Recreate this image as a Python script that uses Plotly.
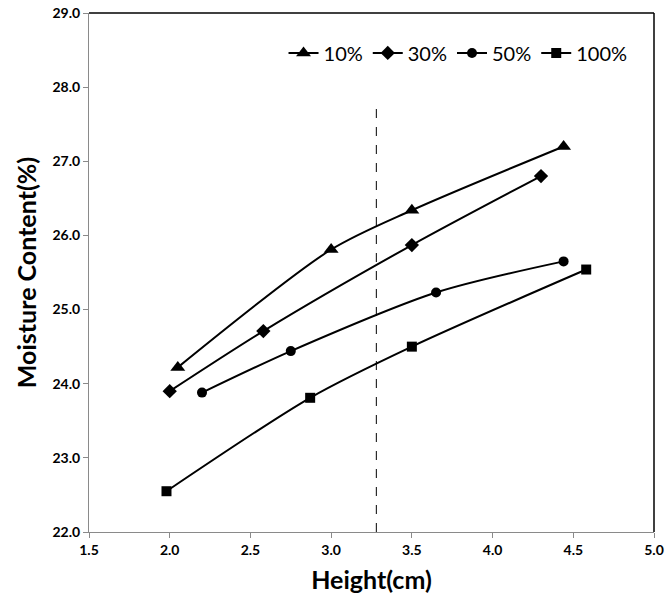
import plotly.graph_objects as go

x_10 = [2.05, 3.0, 3.5, 4.44]
y_10 = [24.22, 25.81, 26.34, 27.2]

x_30 = [2.0, 2.58, 3.5, 4.3]
y_30 = [23.9, 24.71, 25.87, 26.8]

x_50 = [2.2, 2.75, 3.65, 4.44]
y_50 = [23.88, 24.44, 25.23, 25.65]

x_100 = [1.98, 2.87, 3.5, 4.58]
y_100 = [22.55, 23.81, 24.5, 25.54]

series = [
    ("10%", x_10, y_10, "triangle-up", 13),
    ("30%", x_30, y_30, "diamond", 11),
    ("50%", x_50, y_50, "circle", 10),
    ("100%", x_100, y_100, "square", 10),
]

cut_x = 3.28
cut_top = 27.77

fig = go.Figure()

for name, xs, ys, sym, size in series:
    fig.add_trace(go.Scatter(
        x=xs, y=ys, name=name,
        mode="lines+markers",
        line=dict(color="black", width=2, shape="spline", smoothing=0.8),
        marker=dict(symbol=sym, size=size, color="black"),
    ))

# dashed reference line
fig.add_trace(go.Scatter(
    x=[cut_x, cut_x], y=[22.0, cut_top],
    mode="lines", showlegend=False, hoverinfo="skip",
    line=dict(color="black", width=1, dash="dash"),
))

# black frame on top and right (left/bottom axis lines are grey)
fig.add_shape(type="line", xref="paper", yref="paper", x0=0, x1=1, y0=1, y1=1,
              line=dict(color="black", width=1.5))
fig.add_shape(type="line", xref="paper", yref="paper", x0=1, x1=1, y0=0, y1=1,
              line=dict(color="black", width=1.5))

tick_font = dict(size=14, family="Lato", weight="bold", color="black")

fig.update_layout(
    width=669, height=605,
    margin=dict(l=89, r=15, t=13, b=73),
    plot_bgcolor="white", paper_bgcolor="white",
    font=dict(family="Lato, Open Sans, sans-serif", color="black"),
    legend=dict(
        orientation="h", x=0.962, y=0.923, xanchor="right", yanchor="middle",
        font=dict(size=20), bgcolor="rgba(0,0,0,0)",
        itemwidth=30, tracegroupgap=0,
    ),
    xaxis=dict(
        range=[1.5, 5.0], tickmode="linear", tick0=1.5, dtick=0.5,
        tickformat=".1f", showgrid=False, zeroline=False, automargin=False,
        showline=True, linecolor="#8a8a8a", linewidth=1,
        ticks="outside", ticklen=5, tickcolor="#8a8a8a",
        tickfont=tick_font, ticklabeloverflow="allow",
        title=dict(text="<b>Height(cm)</b>", font=dict(size=25), standoff=14),
    ),
    yaxis=dict(
        range=[22.0, 29.0], tickmode="linear", tick0=22, dtick=1,
        tickformat=".1f", showgrid=False, zeroline=False, automargin=False,
        showline=True, linecolor="#8a8a8a", linewidth=1,
        ticks="outside", ticklen=5, tickcolor="#8a8a8a",
        tickfont=tick_font, ticklabeloverflow="allow",
        title=dict(text="<b>Moisture Content(%)</b>", font=dict(size=25), standoff=8),
    ),
)

# drop the browser's default body margin so the figure sits at the page corner
fig.write_html("out.html", config={"displayModeBar": False},
               post_script="document.body.style.margin='0';")
